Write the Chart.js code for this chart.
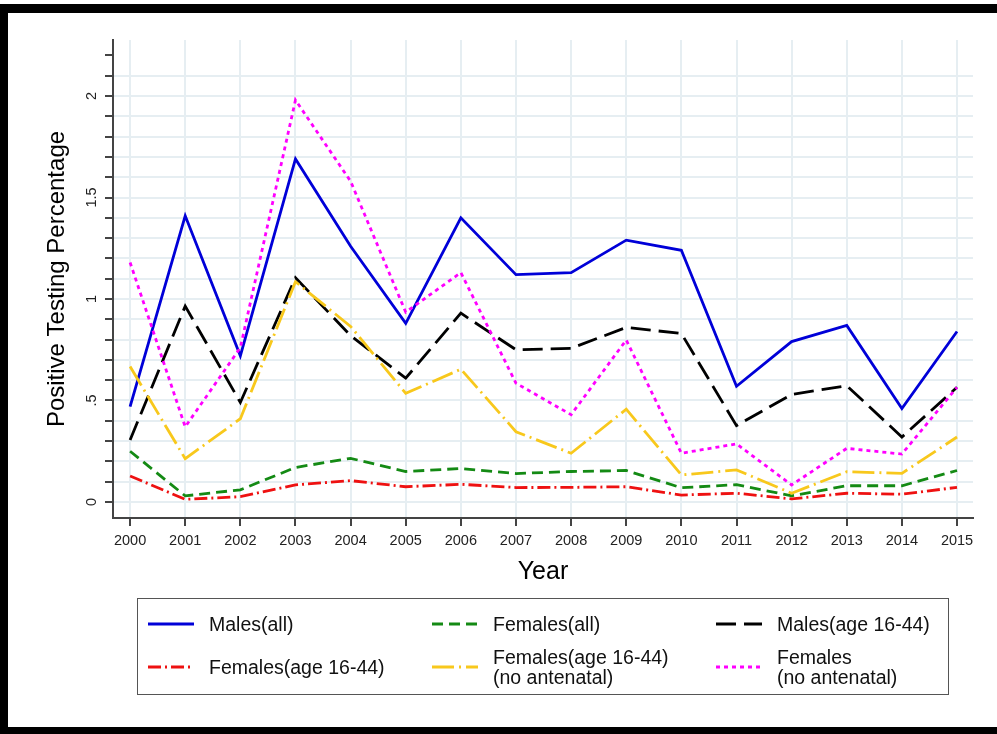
<!DOCTYPE html>
<html>
<head>
<meta charset="utf-8">
<script src="https://cdn.jsdelivr.net/npm/chart.js@4.4.1/dist/chart.umd.min.js"></script>
<style>
  html, body { margin: 0; padding: 0; background: #fff; }
  body { width: 997px; height: 734px; position: relative; overflow: hidden; font-family: "Liberation Sans", Arial, sans-serif; }
  #chart { position: absolute; left: 0; top: 0; }
  #frame {
    position: absolute; left: 0; top: 4px; width: 997px; height: 730px; box-sizing: border-box;
    border-top: 9px solid #000; border-left: 8px solid #000; border-bottom: 7px solid #000;
    pointer-events: none;
  }
  #legend {
    position: absolute; left: 137px; top: 598px; width: 812px; height: 97px; box-sizing: border-box;
    border: 1.5px solid #555; font-size: 19.5px; color: #111;
  }
  .item { position: absolute; display: flex; align-items: center; transform: translateY(-50%); }
  .item svg { width: 46px; height: 10px; margin-right: 15px; flex: none; }
  .item span { line-height: 20px; white-space: nowrap; }
</style>
</head>
<body>
<canvas id="chart" width="997" height="734"></canvas>
<div id="legend"></div>
<div id="frame"></div>
<script>
const years = [2000, 2001, 2002, 2003, 2004, 2005, 2006, 2007, 2008, 2009, 2010, 2011, 2012, 2013, 2014, 2015];

const malesAll = [0.47, 1.41, 0.72, 1.69, 1.26, 0.88, 1.40, 1.12, 1.13, 1.29, 1.24, 0.57, 0.79, 0.87, 0.46, 0.84];
const femalesAll = [0.25, 0.03, 0.06, 0.17, 0.215, 0.15, 0.165, 0.14, 0.15, 0.155, 0.07, 0.085, 0.03, 0.08, 0.08, 0.155];
const males1644 = [0.305, 0.965, 0.49, 1.105, 0.82, 0.61, 0.93, 0.75, 0.757, 0.86, 0.83, 0.376, 0.53, 0.573, 0.32, 0.565];
const females1644 = [0.128, 0.013, 0.026, 0.084, 0.105, 0.075, 0.087, 0.071, 0.072, 0.075, 0.034, 0.043, 0.015, 0.043, 0.038, 0.072];
const females1644NoAnte = [0.667, 0.213, 0.41, 1.085, 0.865, 0.535, 0.654, 0.346, 0.24, 0.457, 0.133, 0.158, 0.043, 0.149, 0.141, 0.32];
const femalesNoAnte = [1.18, 0.37, 0.76, 1.98, 1.58, 0.935, 1.13, 0.585, 0.43, 0.798, 0.24, 0.286, 0.084, 0.264, 0.236, 0.565];

const yTickValues = [0, 0.1, 0.2, 0.3, 0.4, 0.5, 0.6, 0.7, 0.8, 0.9, 1, 1.1, 1.2, 1.3, 1.4, 1.5, 1.6, 1.7, 1.8, 1.9, 2, 2.1, 2.2];
const yLabelValues = [0, 0.5, 1, 1.5, 2];
const yLabelTexts = ['0', '.5', '1', '1.5', '2'];

const seriesList = [
  { label: 'Males(all)', values: malesAll, color: '#0000d8', dash: [] },
  { label: 'Females(all)', values: femalesAll, color: '#148a14', dash: [11, 6] },
  { label: 'Males(age 16-44)', values: males1644, color: '#000000', dash: [20, 8] },
  { label: 'Females(age 16-44)', values: females1644, color: '#ee1111', dash: [13, 4, 2, 4] },
  { label: 'Females(age 16-44)\n(no antenatal)', values: females1644NoAnte, color: '#f8c81c', dash: [22, 5, 2, 5] },
  { label: 'Females\n(no antenatal)', values: femalesNoAnte, color: '#ff00ff', dash: [4, 4] }
];

const gridColor = '#e6eef2';
const axisColor = '#444444';
const fontFamily = '"Liberation Sans", Arial, sans-serif';

const chart = new Chart(document.getElementById('chart'), {
  type: 'line',
  data: {
    datasets: seriesList.map((s, i) => ({
      label: s.label,
      data: years.map((yr, j) => ({ x: yr, y: s.values[j] })),
      borderColor: s.color,
      backgroundColor: s.color,
      borderDash: s.dash,
      borderWidth: 2.8,
      pointRadius: 0,
      tension: 0,
      fill: false,
      order: seriesList.length - 1 - i
    }))
  },
  options: {
    responsive: false,
    animation: false,
    layout: { padding: { top: 40, right: 24, left: 0, bottom: 0 } },
    plugins: { legend: { display: false }, tooltip: { enabled: false } },
    scales: {
      x: {
        type: 'linear',
        min: 1999.69,
        max: 2015.29,
        afterBuildTicks: (scale) => { scale.ticks = years.map(v => ({ value: v })); },
        afterFit: (scale) => { scale.height = 216; },
        ticks: {
          color: '#222',
          padding: 6,
          maxRotation: 0,
          autoSkip: false,
          font: { family: fontFamily, size: 14.5 },
          callback: (v) => String(v)
        },
        grid: { color: gridColor, lineWidth: 2, tickColor: axisColor, tickLength: 8, tickWidth: 2 },
        border: { display: true, color: axisColor, width: 2 },
        title: {
          display: true,
          text: 'Year',
          color: '#000',
          font: { family: fontFamily, size: 25 },
          padding: { top: 0, bottom: 147 }
        }
      },
      y: {
        type: 'linear',
        min: -0.079,
        max: 2.276,
        afterBuildTicks: (scale) => { scale.ticks = yTickValues.map(v => ({ value: v })); },
        afterFit: (scale) => { scale.width = 113; },
        ticks: {
          color: '#222',
          padding: 3,
          minRotation: 90,
          maxRotation: 90,
          crossAlign: 'center',
          autoSkip: false,
          font: { family: fontFamily, size: 14.5 },
          callback: (v) => {
            const k = yLabelValues.findIndex(t => Math.abs(t - v) < 1e-6);
            return k >= 0 ? yLabelTexts[k] : '';
          }
        },
        grid: {
          color: (ctx) => (ctx.tick && ctx.tick.value > 2.15 ? 'rgba(0,0,0,0)' : gridColor),
          lineWidth: 2,
          tickColor: axisColor,
          tickLength: 8,
          tickWidth: 2
        },
        border: { display: true, color: axisColor, width: 2 },
        title: {
          display: true,
          text: 'Positive Testing Percentage',
          color: '#000',
          font: { family: fontFamily, size: 24 },
          padding: { top: 43, bottom: 0 }
        }
      }
    }
  }
});

// legend built from the chart's datasets
const legendEl = document.getElementById('legend');
const rowCenters = [25, 68];
const colLefts = [10, 294, 578];
chart.data.datasets.forEach((ds, i) => {
  const item = document.createElement('div');
  item.className = 'item';
  item.style.left = colLefts[i % 3] + 'px';
  item.style.top = rowCenters[Math.floor(i / 3)] + 'px';
  const dash = ds.borderDash && ds.borderDash.length ? ds.borderDash.join(' ') : 'none';
  item.innerHTML =
    '<svg viewBox="0 0 46 10"><line x1="0" y1="5" x2="46" y2="5" stroke="' + ds.borderColor +
    '" stroke-width="3" stroke-dasharray="' + dash + '"/></svg>';
  const span = document.createElement('span');
  span.innerHTML = ds.label.split('\n').join('<br>');
  item.appendChild(span);
  legendEl.appendChild(item);
});
</script>
</body>
</html>
